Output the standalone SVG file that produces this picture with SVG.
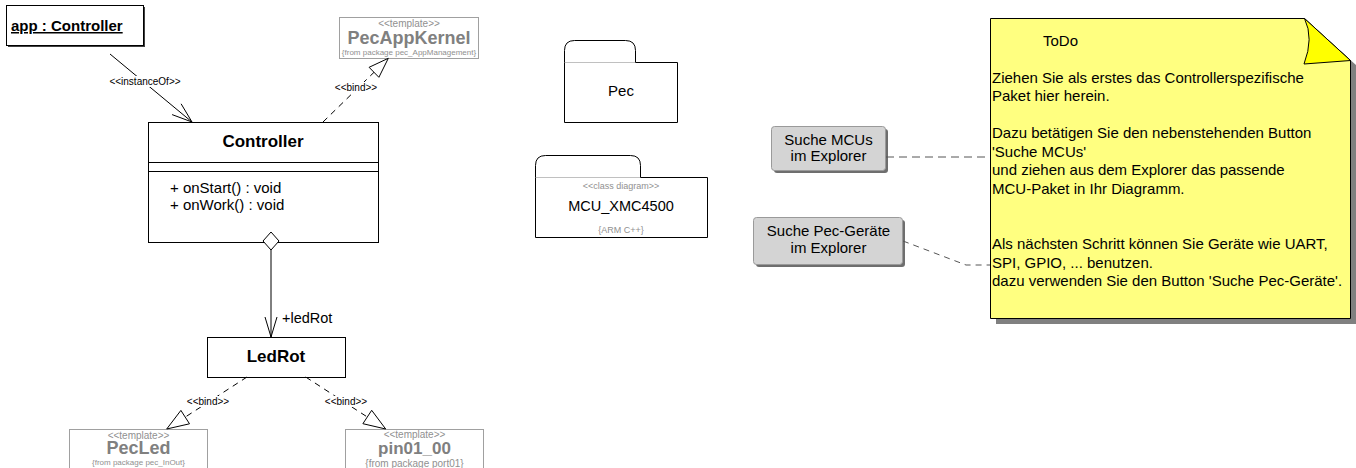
<svg xmlns="http://www.w3.org/2000/svg" width="1356" height="468" viewBox="0 0 1356 468">
<style>
text{font-family:"Liberation Sans",Arial,sans-serif}
.box{fill:#fff;stroke:#000;stroke-width:1}
.tpl{fill:#fff;stroke:#a0a0a0;stroke-width:1}
.name{font-size:17px;font-weight:bold;text-anchor:middle;fill:#000}
.gname{font-weight:bold;text-anchor:middle;fill:#808080}
.st{font-size:10px;text-anchor:middle;fill:#909090}
.from{text-anchor:middle;fill:#909090}
.op{font-size:15px;fill:#000}
.lbl{font-size:10px;text-anchor:middle;fill:#000}
.n{font-size:15px;fill:#000}
.c{text-anchor:middle}
.gray{fill:#909090}
.ln{fill:none;stroke:#000;stroke-width:1}
.dash{stroke-dasharray:6 5}
.bg{fill:#fff}
.btn{fill:#d4d4d4;stroke:#9a9a9a;stroke-width:1}
.btnsh{fill:#6e6e6e}
.pkg{fill:#fff;stroke:#000;stroke-width:1}
.tabline{stroke:#c0c0c0;stroke-width:1}
.tri{fill:#fff;stroke:#000;stroke-width:1}
</style>

<g id="app-controller">
  <rect x="8" y="7" width="137" height="40" fill="#404040"/>
  <rect class="box" x="6.5" y="5.5" width="137" height="40"/>
  <text x="11" y="31" font-size="15" font-weight="bold" text-decoration="underline" fill="#000">app : Controller</text>
</g>

<g id="pecappkernel">
  <rect class="tpl" x="339.5" y="17.5" width="139" height="41"/>
  <text class="st" x="409" y="27">&lt;&lt;template&gt;&gt;</text>
  <text class="gname" x="409" y="44" font-size="18">PecAppKernel</text>
  <text class="from" x="409" y="54.5" font-size="8">{from package pec_AppManagement}</text>
</g>

<g id="controller">
  <rect class="box" x="148.5" y="122.5" width="230" height="120"/>
  <line class="ln" x1="148.5" y1="162.5" x2="378.5" y2="162.5"/>
  <line class="ln" x1="148.5" y1="171.5" x2="378.5" y2="171.5"/>
  <text class="name" x="263" y="147">Controller</text>
  <text class="op" x="170" y="193">+ onStart() : void</text>
  <text class="op" x="170" y="210">+ onWork() : void</text>
</g>

<g id="ledrot">
  <rect class="box" x="207.5" y="337.5" width="138" height="40"/>
  <text class="name" x="276" y="362">LedRot</text>
</g>

<g id="pecled">
  <rect class="tpl" x="69.5" y="429.5" width="138" height="45"/>
  <text class="st" x="138.5" y="438.5">&lt;&lt;template&gt;&gt;</text>
  <text class="gname" x="138.5" y="454" font-size="18">PecLed</text>
  <text class="from" x="138.5" y="464.5" font-size="8">{from package pec_InOut}</text>
</g>

<g id="pin01_00">
  <rect class="tpl" x="345.5" y="429.5" width="138" height="45"/>
  <text class="st" x="414.5" y="438">&lt;&lt;template&gt;&gt;</text>
  <text class="gname" x="414.5" y="454" font-size="17">pin01_00</text>
  <text class="from" x="414.5" y="467" font-size="10">{from package port01}</text>
</g>

<g id="pkg-pec">
  <path class="pkg" d="M564.5,62.5 V50.5 Q564.5,40.5 574.5,40.5 H625.5 Q635.5,40.5 635.5,50.5 V62.5 H677.5 V122.5 H564.5 Z"/>
  <line class="tabline" x1="565" y1="62.5" x2="635" y2="62.5"/>
  <text class="n c" x="621" y="96">Pec</text>
</g>

<g id="pkg-mcu">
  <path class="pkg" d="M535.5,177.5 V165.5 Q535.5,155.5 545.5,155.5 H630.5 Q640.5,155.5 640.5,165.5 V177.5 H707.5 V237.5 H535.5 Z"/>
  <line class="tabline" x1="536" y1="177.5" x2="640" y2="177.5"/>
  <text class="c gray" x="621" y="189" font-size="9">&lt;&lt;class diagram&gt;&gt;</text>
  <text class="c" x="621" y="211" font-size="14.5" fill="#000">MCU_XMC4500</text>
  <text class="c gray" x="621" y="233" font-size="9">{ARM C++}</text>
</g>

<g id="btn-mcus">
  <rect class="btnsh" x="774" y="129" width="114" height="44" rx="3"/>
  <rect class="btn" x="771.5" y="126.5" width="114" height="44" rx="3"/>
  <text class="n c" x="828.5" y="145">Suche MCUs</text>
  <text class="n c" x="828.5" y="161">im Explorer</text>
</g>

<g id="btn-pec">
  <rect class="btnsh" x="756" y="220" width="149" height="47" rx="3"/>
  <rect class="btn" x="753.5" y="217.5" width="149" height="47" rx="3"/>
  <text class="n c" x="828.5" y="236">Suche Pec-Geräte</text>
  <text class="n c" x="828.5" y="253">im Explorer</text>
</g>

<g id="note-todo">
  <path d="M996,24 H1310 L1357,66 V324 H996 Z" fill="#808080"/>
  <path d="M990.5,18.5 H1304.5 L1350.5,60.5 V318.5 H990.5 Z" fill="#ffff80" stroke="#000" stroke-width="1"/>
  <path d="M1304.5,18.5 Q1314,38 1304,64 L1350.5,60.5 Z" fill="#ffff00" stroke="#000" stroke-width="1" stroke-linejoin="round"/>
  <text class="n" x="1043" y="46">ToDo</text>
  <text class="n" x="992" y="82.5">Ziehen Sie als erstes das Controllerspezifische</text>
  <text class="n" x="992" y="101">Paket hier herein.</text>
  <text class="n" x="992" y="138">Dazu betätigen Sie den nebenstehenden Button</text>
  <text class="n" x="992" y="156.5">'Suche MCUs'</text>
  <text class="n" x="992" y="175">und ziehen aus dem Explorer das passende</text>
  <text class="n" x="992" y="193.5">MCU-Paket in Ihr Diagramm.</text>
  <text class="n" x="992" y="249">Als nächsten Schritt können Sie Geräte wie UART,</text>
  <text class="n" x="992" y="267.5">SPI, GPIO, ... benutzen.</text>
  <text class="n" x="992" y="286">dazu verwenden Sie den Button 'Suche Pec-Geräte'.</text>
</g>

<g id="connectors">
  <line class="ln" x1="110" y1="54" x2="192" y2="122"/>
  <polyline class="ln" points="172.1,114.6 192,122 181.1,103.8"/>
  <rect class="bg" x="108" y="76" width="74" height="11"/>
  <text class="lbl" x="145" y="85">&lt;&lt;instanceOf&gt;&gt;</text>

  <line class="ln dash" x1="323" y1="122" x2="374" y2="72.3"/>
  <polygon class="tri" points="388.3,58.3 378.9,77.3 369.1,67.3"/>
  <rect class="bg" x="335" y="82" width="42" height="11"/>
  <text class="lbl" x="356" y="91">&lt;&lt;bind&gt;&gt;</text>

  <line class="ln" x1="271" y1="250" x2="271" y2="337"/>
  <polygon class="tri" points="271,232 279,241 271,250 263,241"/>
  <polyline class="ln" points="265,317 271,337 277,317"/>
  <text x="282" y="323" font-size="14.5" fill="#000">+ledRot</text>

  <line class="ln dash" x1="247" y1="377" x2="185.2" y2="417.1"/>
  <polygon class="tri" points="166.7,429 189.5,423.8 180.9,410.4"/>
  <rect class="bg" x="187" y="396" width="42" height="11"/>
  <text class="lbl" x="208" y="405">&lt;&lt;bind&gt;&gt;</text>

  <line class="ln dash" x1="305.7" y1="377" x2="367.3" y2="417"/>
  <polygon class="tri" points="385.7,429 362.9,423.7 371.7,410.3"/>
  <rect class="bg" x="325" y="396" width="42" height="11"/>
  <text class="lbl" x="346" y="405">&lt;&lt;bind&gt;&gt;</text>

  <line x1="886" y1="157" x2="990" y2="157" stroke="#555" stroke-width="1" stroke-dasharray="8 5"/>
  <polyline points="903,241 966,265 990,265" fill="none" stroke="#555" stroke-width="1" stroke-dasharray="6 5"/>
</g>
</svg>
